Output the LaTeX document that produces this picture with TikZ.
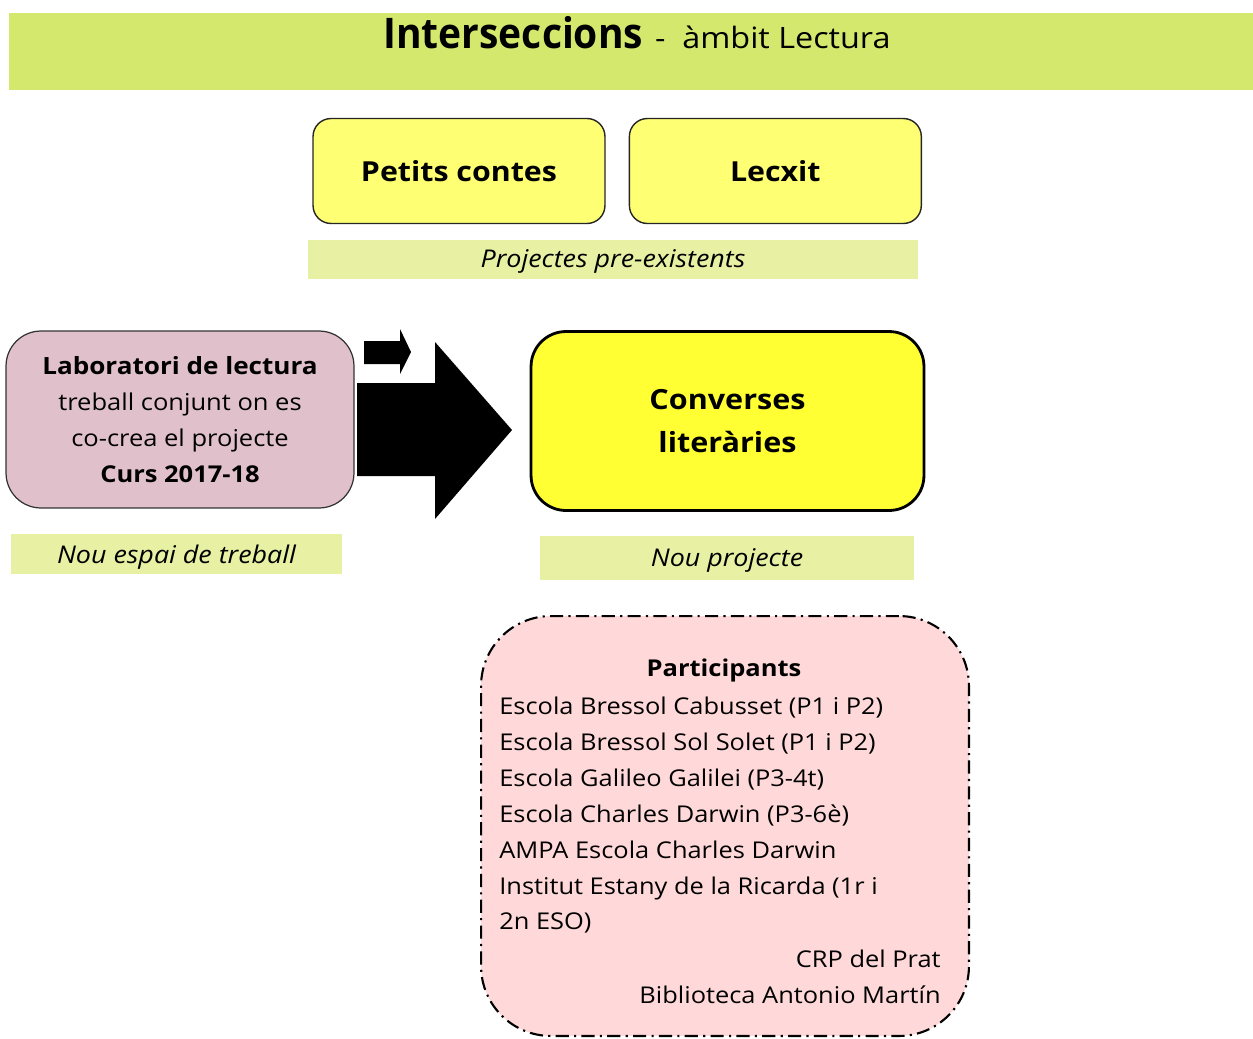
\documentclass[tikz,border=0pt]{standalone}
\usepackage{fontspec}
\setmainfont{Open Sans}[FakeStretch=1.1]
\usetikzlibrary{positioning}
\definecolor{titlegreen}{HTML}{D5E86E}
\definecolor{bandgreen}{HTML}{E7F0A3}
\definecolor{paleyellow}{HTML}{FFFF73}
\definecolor{brightyellow}{HTML}{FFFF33}
\definecolor{mauve}{HTML}{E0C0CB}
\definecolor{palepink}{HTML}{FFD9D9}
\begin{document}
\begin{tikzpicture}[x=0.02cm, y=-0.02cm,
	project/.style={draw=black!85, line width=0.8pt, fill=paleyellow, rounded corners=0.36cm, minimum width=5.84cm, minimum height=2.1cm, font=\bfseries\fontsize{15.7}{19}\selectfont},
	band/.style={fill=bandgreen, inner sep=0pt, text depth=0pt, font=\itshape\fontsize{13.9}{16}\selectfont},
	blockarrow/.style={fill=black}]
	\useasboundingbox (0,0) rectangle (1253,1038);
	% title
	\node[fill=titlegreen, minimum width=24.88cm, minimum height=1.54cm, inner sep=0pt] (titlebar) at (631,51.5) {};
	\node (titletext) at (637,33) {\fontsize{24}{28}\selectfont\bfseries\scalebox{0.84}[1]{Interseccions}\ \fontsize{16.75}{20}\mdseries - \ àmbit Lectura};
	% existing projects
	\node[project] (petits) at (459,171) {Petits contes};
	\node[project, right=0.46cm of petits] (lecxit) {Lecxit};
	\node[band, minimum width=12.2cm, minimum height=0.78cm] (preexist) at (613,259) {Projectes pre-existents};
	% lab and new project
	\node[draw=black!80, line width=0.7pt, fill=mauve, rounded corners=0.7cm, minimum width=6.96cm, minimum height=3.54cm, align=center, font=\fontsize{13.2}{20.4}\selectfont] (lab) at (180,419.5)
		{\textbf{\fontsize{13.5}{20.4}\selectfont Laboratori de lectura}\\treball conjunt on es\\co-crea el projecte\\\textbf{Curs 2017-18}};
	\node[band, minimum width=6.62cm, minimum height=0.8cm] (espai) at (176.5,554) {Nou espai de treball};
	\node[draw, line width=1.6pt, fill=brightyellow, rounded corners=0.7cm, minimum width=7.86cm, minimum height=3.58cm, align=center, font=\bfseries\fontsize{15.8}{24.4}\selectfont] (converses) at (727.5,421)
		{Converses\\literàries};
	\node[band, minimum width=7.48cm, minimum height=0.88cm] (nou) at (727,558) {Nou projecte};
	\fill[blockarrow] (364,341) -- (400,341) -- (400,329) -- (411,352) -- (400,374) -- (400,364) -- (364,364) -- cycle;
	\fill[blockarrow] (357,383) -- (435,383) -- (435,342) -- (512,430) -- (435,519) -- (435,476) -- (357,476) -- cycle;
	% participants
	\node[draw, line width=1.2pt, fill=palepink, rounded corners=1.4cm, dash pattern=on 7.5pt off 3pt on 1.2pt off 3pt, minimum width=9.76cm, minimum height=8.4cm] (partbox) at (725,826) {};
	\node[font=\bfseries\fontsize{13.2}{15}\selectfont] (parthead) at (724,670) {Participants};
	\node[align=left, anchor=west, inner sep=0pt, font=\fontsize{13.15}{20.4}\selectfont] (partlist) at (499,815.5)
		{Escola Bressol Cabusset (P1 i P2)\\Escola Bressol Sol Solet (P1 i P2)\\Escola Galileo Galilei (P3-4t)\\Escola Charles Darwin (P3-6è)\\AMPA Escola Charles Darwin\\Institut Estany de la Ricarda (1r i\\2n ESO)};
	\node[align=right, anchor=east, inner sep=0pt, font=\fontsize{13.15}{20.4}\selectfont] (partright) at (941,977)
		{CRP del Prat\\Biblioteca Antonio Martín};
\end{tikzpicture}
\end{document}
